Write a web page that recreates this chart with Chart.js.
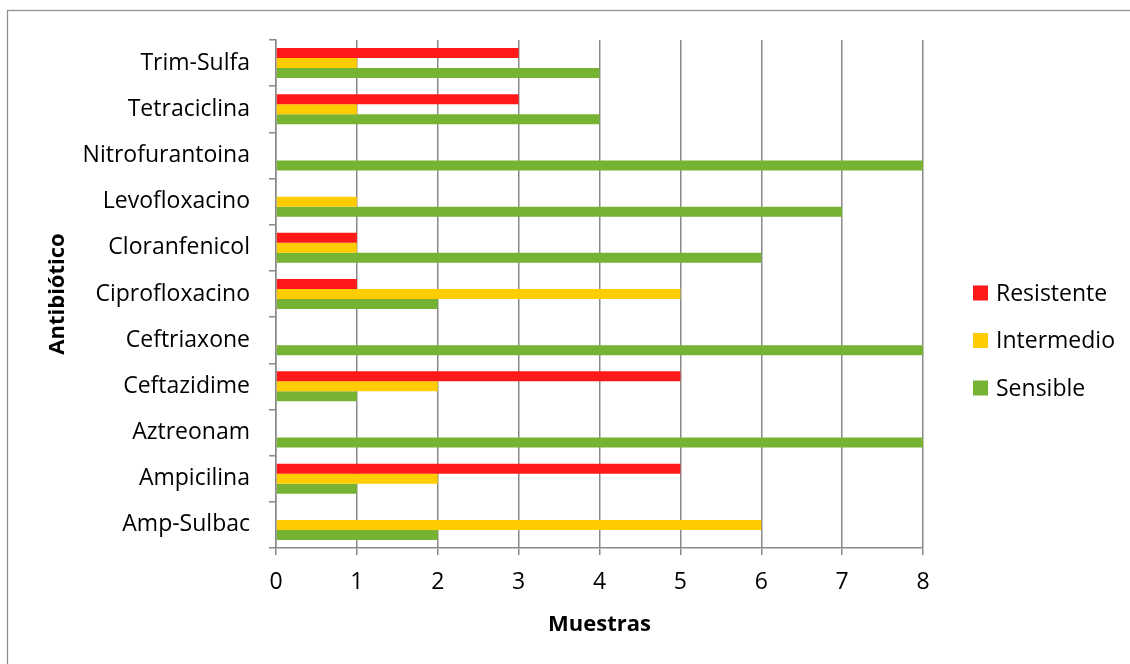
<!DOCTYPE html>
<html>
<head>
<meta charset="utf-8">
<title>Antibiótico - Muestras</title>
<script src="https://cdn.jsdelivr.net/npm/chart.js@4.4.1/dist/chart.umd.min.js"></script>
<style>
  html, body { margin: 0; padding: 0; background: #ffffff; }
  #wrap { width: 1130px; height: 664px; }
</style>
</head>
<body>
<div id="wrap"><canvas id="chart" width="1130" height="664"></canvas></div>
<script>
// Antibiotic susceptibility counts per drug
const categories = ['Trim-Sulfa', 'Tetraciclina', 'Nitrofurantoina', 'Levofloxacino', 'Cloranfenicol',
  'Ciprofloxacino', 'Ceftriaxone', 'Ceftazidime', 'Aztreonam', 'Ampicilina', 'Amp-Sulbac'];
const resistente = [3, 3, 0, 0, 1, 1, 0, 5, 0, 5, 0];
const intermedio = [1, 1, 0, 1, 1, 5, 0, 2, 0, 2, 6];
const sensible   = [4, 4, 8, 7, 6, 2, 8, 1, 8, 1, 2];
const seriesNames = ['Resistente', 'Intermedio', 'Sensible'];
const seriesColors = ['#FF1A1A', '#FFCC00', '#77B332'];
const xTickValues = [0, 1, 2, 3, 4, 5, 6, 7, 8];
const axisTitleX = 'Muestras';
const axisTitleY = 'Antibiótico';

const FONT = '"Open Sans", "DejaVu Sans", sans-serif';
const GRID = '#898989';

Chart.defaults.font.family = FONT;
Chart.defaults.color = '#000000';

// White background plus the outer frame of the chart
const framePlugin = {
  id: 'frame',
  beforeDraw(chart) {
    const ctx = chart.ctx;
    ctx.save();
    ctx.fillStyle = '#ffffff';
    ctx.fillRect(0, 0, chart.width, chart.height);
    ctx.strokeStyle = '#8c8c8c';
    ctx.lineWidth = 1.25;
    ctx.strokeRect(7.5, 10.5, chart.width + 20, chart.height + 20);
    ctx.restore();
  }
};

// Legend drawn to the right of the plot, one square swatch per series
const sideLegend = {
  id: 'sideLegend',
  afterDraw(chart) {
    const ctx = chart.ctx;
    const area = chart.chartArea;
    const x = area.right + 50;
    const yMid = 340.5;
    const step = 47.5;
    const box = 15;
    const sets = chart.data.datasets;
    ctx.save();
    ctx.font = '23px ' + FONT;
    ctx.textBaseline = 'middle';
    ctx.textAlign = 'left';
    sets.forEach((ds, i) => {
      const y = yMid + (i - (sets.length - 1) / 2) * step;
      ctx.fillStyle = ds.backgroundColor;
      ctx.fillRect(x, y - box / 2, box, box);
      ctx.fillStyle = '#000000';
      ctx.fillText(ds.label, x + box + 8, y + 1);
    });
    ctx.restore();
  }
};

const seriesData = [resistente, intermedio, sensible];

new Chart(document.getElementById('chart'), {
  type: 'bar',
  data: {
    labels: categories,
    datasets: seriesData.map((values, i) => ({
      label: seriesNames[i],
      data: values,
      backgroundColor: seriesColors[i],
      borderWidth: 0,
      categoryPercentage: 0.65,
      barPercentage: 1.0
    }))
  },
  options: {
    indexAxis: 'y',
    responsive: false,
    animation: false,
    layout: { padding: { top: 40, right: 207, bottom: 0, left: 0 } },
    plugins: {
      legend: { display: false },
      tooltip: { enabled: false }
    },
    scales: {
      x: {
        type: 'linear',
        min: 0,
        max: 8,
        afterBuildTicks(scale) {
          scale.ticks = xTickValues.map(v => ({ value: v }));
        },
        afterFit(scale) { scale.height = 116; },
        grid: {
          color: GRID,
          lineWidth: 1.5,
          drawTicks: true,
          tickLength: 7,
          tickColor: GRID
        },
        border: { display: true, color: GRID, width: 1.5 },
        ticks: {
          font: { size: 23 },
          color: '#000000',
          padding: 14
        },
        title: {
          display: true,
          text: axisTitleX,
          font: { size: 22, weight: 'bold' },
          color: '#000000',
          padding: { top: 0, bottom: 26 }
        }
      },
      y: {
        type: 'category',
        afterFit(scale) { scale.width = 276; },
        grid: {
          offset: true,
          drawOnChartArea: false,
          drawTicks: true,
          tickLength: 7,
          color: GRID,
          lineWidth: 1.5
        },
        border: { display: true, color: GRID, width: 1.5 },
        ticks: {
          font: { size: 23 },
          color: '#000000',
          padding: 19
        },
        title: {
          display: true,
          text: axisTitleY,
          font: { size: 22, weight: 'bold' },
          color: '#000000',
          padding: { top: 45, bottom: 0 }
        }
      }
    }
  },
  plugins: [framePlugin, sideLegend]
});
</script>
</body>
</html>
